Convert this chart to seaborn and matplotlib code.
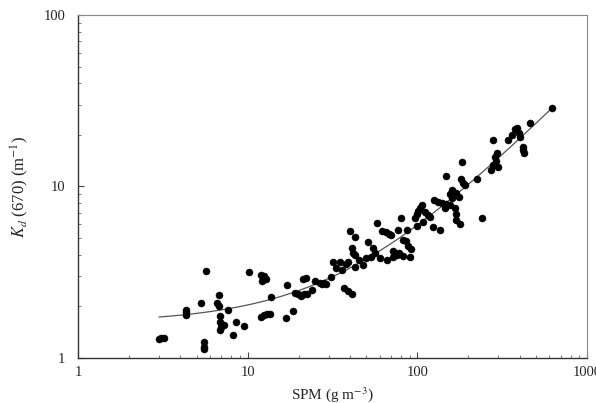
"""
Kd(670) vs SPM scatter on log-log axes with linear fit
"""
import numpy as np
import pandas as pd
import matplotlib
matplotlib.use("Agg")
import matplotlib.pyplot as plt
import seaborn as sns

# SPM (g m-3)
spm = [
    3.0, 3.1, 3.2, 4.3, 4.3, 4.35, 5.3, 5.66, 5.5, 5.5, 5.55, 6.8, 6.6, 6.75,
    6.9, 6.9, 7.0, 6.9, 7.2, 7.6, 8.5, 8.2, 9.5, 10.2, 12.0, 12.4, 12.8, 12.2,
    13.7, 12.0, 12.5, 13.0, 13.5, 17.0, 16.8, 18.5, 19.0, 19.8, 20.5, 21.5,
    22.5, 21.2, 22.0, 25, 26.5, 27.5, 29, 31, 32, 35, 38, 39, 36, 43, 40, 43,
    41, 42, 43, 37, 39, 41, 33, 51, 55, 56, 58, 62, 65, 68, 70, 72, 74, 76,
    78, 80, 77, 87, 82, 86, 88, 92, 97, 99, 101, 104, 107, 111, 115, 118, 123,
    135, 126, 132, 140, 148, 155, 167, 168, 168, 160, 168, 175, 178, 147, 184,
    180, 185, 190, 225, 240, 270, 280, 290, 285, 295, 300, 280, 340, 360, 375,
    385, 395, 400, 420, 422, 425, 460, 620, 48, 45, 50, 53, 60, 66, 72, 90,
    82, 28, 24, 100, 108, 155, 160, 145,
]
# Kd(670) (m-1)
kd = [
    1.29, 1.30, 1.30, 1.78, 1.85, 1.90, 2.09, 3.2, 1.23, 1.16, 1.12, 2.33, 2.1,
    2.0, 1.75, 1.62, 1.52, 1.45, 1.55, 1.9, 1.62, 1.36, 1.54, 3.17, 3.05, 3.0,
    2.9, 2.8, 2.27, 1.72, 1.78, 1.8, 1.8, 2.66, 1.71, 1.88, 2.4, 2.35, 2.3,
    2.35, 2.35, 2.9, 2.92, 2.8, 2.75, 2.7, 2.7, 2.97, 3.6, 3.6, 3.55, 3.6,
    3.26, 3.4, 5.5, 5.1, 4.4, 4.1, 4.0, 2.55, 2.45, 2.35, 3.35, 4.75, 4.4,
    4.1, 6.1, 5.5, 5.4, 5.3, 5.2, 4.2, 4.1, 4.0, 4.1, 6.5, 5.6, 5.6, 4.9, 4.8,
    4.5, 4.3, 6.5, 6.9, 7.2, 7.5, 7.8, 7.1, 6.8, 6.6, 5.8, 5.6, 8.3, 8.1, 8.0,
    7.9, 7.8, 7.5, 6.9, 6.4, 9.5, 9.1, 8.7, 6.0, 11.5, 13.9, 11.0, 10.5, 10.2,
    11.0, 6.5, 12.5, 13.3, 14.0, 14.8, 15.7, 13.0, 18.7, 18.7, 20.0, 21.5,
    22.0, 20.5, 19.5, 17.0, 16.3, 15.7, 23.5, 28.6, 3.5, 3.7, 3.8, 3.9, 3.8,
    3.7, 3.85, 3.9, 3.95, 2.75, 2.5, 5.9, 6.2, 9.0, 8.5, 7.5,
]

# linear fit Kd = a + b * SPM
fit_intercept = 1.6
fit_slope = 0.0435
fit_range = [3.0, 620.0]

sns.set_style("ticks")
plt.rcParams['font.family'] = ['Liberation Serif', 'DejaVu Serif']
plt.rcParams['mathtext.fontset'] = 'stix'

df = pd.DataFrame({"SPM": spm, "Kd": kd})
fit_x = np.geomspace(fit_range[0], fit_range[1], 200)
fit_df = pd.DataFrame({"SPM": fit_x, "Kd": fit_intercept + fit_slope * fit_x})

fig = plt.figure(figsize=(5.96, 4.03), dpi=100)
ax = fig.add_axes([0.131, 0.112, 0.854, 0.851])

sns.lineplot(data=fit_df, x="SPM", y="Kd", ax=ax, color="#555555",
             linewidth=0.9, zorder=1)
sns.scatterplot(data=df, x="SPM", y="Kd", ax=ax, color="black", s=26,
                edgecolor="black", linewidth=0.3, zorder=2)

ax.set_xscale("log")
ax.set_yscale("log")
ax.set_xlim(1, 1000)
ax.set_ylim(1, 100)
ax.set_xticks([1, 10, 100, 1000])
ax.set_xticklabels(["1", "10", "100", "1000"])
ax.set_yticks([1, 10, 100])
ax.set_yticklabels(["1", "10", "100"])

ax.tick_params(which="major", direction="in", length=4, width=0.8,
               labelsize=10.5, color="#444444")
ax.tick_params(which="minor", direction="in", length=2.5, width=0.6,
               color="#666666")
ax.tick_params(axis="y", which="major", pad=9)
ax.tick_params(axis="x", which="major", pad=6)

ax.set_xlabel("SPM (g m$^{-3}$)", fontsize=11, labelpad=4)
ax.set_ylabel("$K_d$ (670) (m$^{-1}$)", fontsize=12, labelpad=9)

for side in ["left", "bottom"]:
    ax.spines[side].set_color("#333333")
    ax.spines[side].set_linewidth(1.0)
for side in ["top", "right"]:
    ax.spines[side].set_color("#888888")
    ax.spines[side].set_linewidth(0.8)

fig.savefig("out.png", dpi=100)
plt.close(fig)
